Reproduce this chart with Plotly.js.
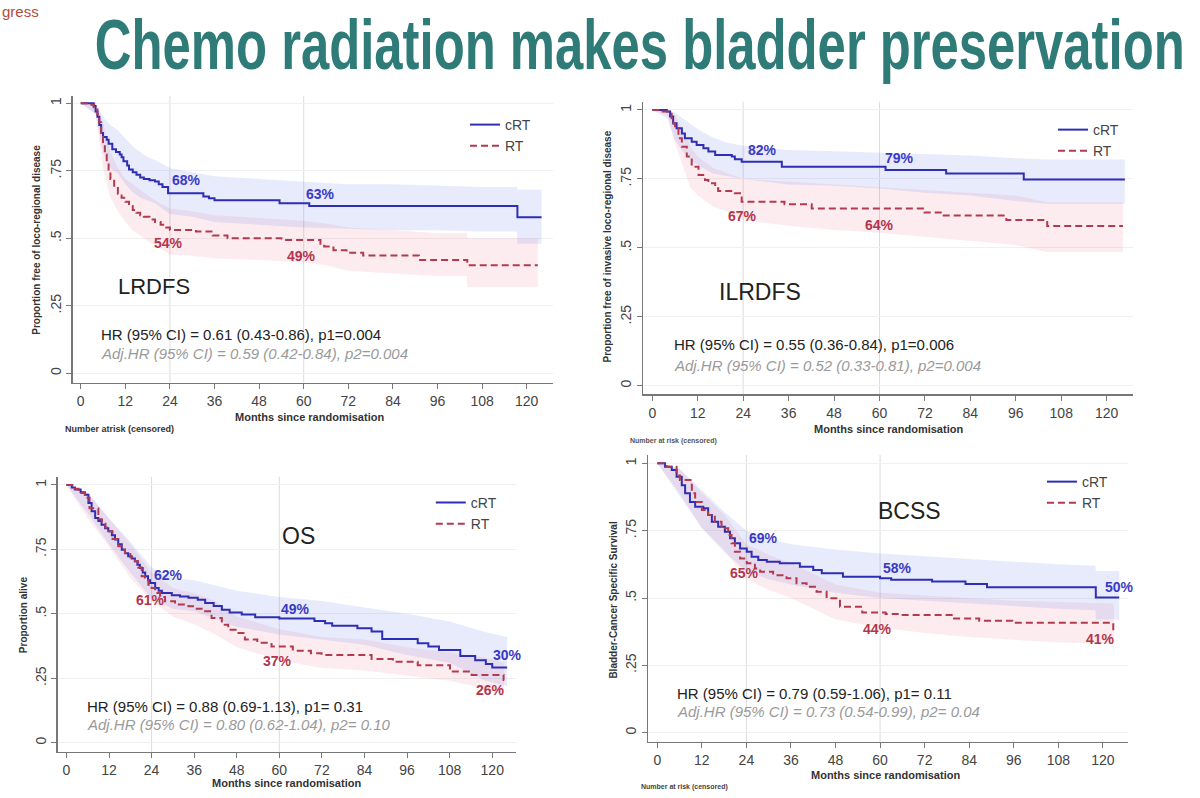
<!DOCTYPE html>
<html><head><meta charset="utf-8">
<script src="https://cdn.plot.ly/plotly-3.0.1.min.js"></script>
<style>html,body{margin:0;padding:0;background:#fff}#chart{width:1200px;height:798px}</style>
</head><body><div id="chart"></div>
<script>
// ---------- DATA (Kaplan-Meier estimates, months / proportion) ----------
const seriesNames = ["cRT", "RT"];
const monthTicks = [0, 12, 24, 36, 48, 60, 72, 84, 96, 108, 120];
const propTicks = [0, 0.25, 0.5, 0.75, 1];
const propTickText = ["0", ".25", ".5", ".75", "1"];
const refMonths = [24, 60];

// LRDFS
const lrdfsCrtT = [0, 3.5, 4, 4.5, 5, 5.5, 6, 7, 7.5, 8.5, 9.5, 10.5, 11, 11.5, 12.5, 13, 14, 15, 16, 17, 18.5, 20, 21, 22, 23.5, 33, 34.5, 36, 53.5, 61.5, 117.5, 124];
const lrdfsCrtS = [1, 0.99, 0.97, 0.95, 0.92, 0.89, 0.875, 0.865, 0.85, 0.83, 0.82, 0.81, 0.80, 0.785, 0.77, 0.755, 0.745, 0.735, 0.725, 0.72, 0.715, 0.71, 0.70, 0.69, 0.667, 0.655, 0.648, 0.641, 0.630, 0.620, 0.578, 0.578];
const lrdfsRtT = [0, 2.5, 3.5, 4.5, 5, 5.5, 6, 6.5, 7, 7.5, 8, 9, 10, 11, 12, 13, 14, 15, 16, 17, 18.5, 20, 21.5, 23, 24, 31, 35.5, 39.5, 54, 64.5, 65.5, 68, 71.5, 76, 91, 104, 123];
const lrdfsRtS = [1, 0.995, 0.985, 0.96, 0.93, 0.89, 0.85, 0.81, 0.78, 0.75, 0.72, 0.69, 0.665, 0.65, 0.635, 0.62, 0.605, 0.595, 0.585, 0.58, 0.57, 0.56, 0.55, 0.54, 0.531, 0.525, 0.51, 0.50, 0.494, 0.48, 0.47, 0.456, 0.446, 0.436, 0.42, 0.40, 0.40];
const lrdfsCrtCiT = [0, 4, 6, 8, 10, 12, 14, 16, 18, 20, 24, 30, 36, 48, 60, 72, 84, 96, 108, 117.4, 117.5, 124];
const lrdfsCrtCiUp = [1, 1, 0.95, 0.92, 0.90, 0.87, 0.84, 0.82, 0.80, 0.79, 0.76, 0.745, 0.73, 0.72, 0.71, 0.70, 0.70, 0.695, 0.69, 0.69, 0.68, 0.68];
const lrdfsCrtCiLo = [1, 0.96, 0.82, 0.76, 0.74, 0.70, 0.67, 0.65, 0.64, 0.63, 0.59, 0.58, 0.56, 0.55, 0.54, 0.535, 0.53, 0.53, 0.525, 0.525, 0.48, 0.48];
const lrdfsRtCiT = [0, 4, 6, 8, 10, 12, 14, 16, 18, 20, 24, 30, 36, 48, 60, 66, 72, 84, 96, 103.9, 104, 123];
const lrdfsRtCiUp = [1, 1, 0.93, 0.82, 0.76, 0.72, 0.70, 0.68, 0.66, 0.64, 0.61, 0.60, 0.585, 0.575, 0.565, 0.555, 0.54, 0.53, 0.52, 0.52, 0.50, 0.50];
const lrdfsRtCiLo = [1, 0.96, 0.76, 0.65, 0.60, 0.56, 0.53, 0.51, 0.49, 0.475, 0.44, 0.435, 0.425, 0.42, 0.41, 0.40, 0.38, 0.37, 0.36, 0.36, 0.32, 0.32];

// ILRDFS
const ilrdfsCrtT = [0, 3.8, 4.7, 5.5, 6.4, 7.8, 8.6, 10.4, 11.7, 13.5, 14.8, 16.6, 21, 21.8, 23.6, 34.2, 61.6, 77.6, 98.1, 124.8];
const ilrdfsCrtS = [1, 0.994, 0.976, 0.952, 0.934, 0.915, 0.897, 0.885, 0.873, 0.861, 0.849, 0.837, 0.831, 0.821, 0.812, 0.794, 0.782, 0.770, 0.748, 0.748];
const ilrdfsRtT = [0, 2, 5.1, 5.6, 6, 6.9, 7.8, 9.1, 10.4, 12.2, 13.9, 14.8, 16.6, 17.4, 21.8, 23.6, 34.9, 42.1, 71.9, 76.5, 93.5, 104.3, 124.3];
const ilrdfsRtS = [1, 0.994, 0.97, 0.95, 0.934, 0.897, 0.867, 0.831, 0.794, 0.764, 0.746, 0.734, 0.716, 0.706, 0.698, 0.667, 0.658, 0.643, 0.628, 0.617, 0.601, 0.579, 0.579];
const ilrdfsCrtCiT = [0, 4, 6, 8, 10, 12, 16, 20, 24, 36, 48, 60, 72, 84, 96, 104, 124.8];
const ilrdfsCrtCiUp = [1, 1, 0.99, 0.97, 0.95, 0.93, 0.90, 0.88, 0.87, 0.855, 0.85, 0.845, 0.84, 0.835, 0.825, 0.82, 0.82];
const ilrdfsCrtCiLo = [1, 0.97, 0.89, 0.85, 0.82, 0.80, 0.77, 0.76, 0.75, 0.73, 0.725, 0.715, 0.70, 0.69, 0.67, 0.66, 0.66];
const ilrdfsRtCiT = [0, 4, 6, 8, 10, 12, 16, 20, 24, 36, 48, 60, 72, 84, 96, 104, 124.3];
const ilrdfsRtCiUp = [1, 1, 0.98, 0.93, 0.87, 0.83, 0.79, 0.77, 0.75, 0.74, 0.73, 0.72, 0.71, 0.70, 0.69, 0.665, 0.665];
const ilrdfsRtCiLo = [1, 0.98, 0.88, 0.80, 0.72, 0.69, 0.65, 0.63, 0.60, 0.58, 0.565, 0.555, 0.54, 0.525, 0.51, 0.485, 0.485];

// OS
const osCrtT = [0, 1.5, 2.4, 4, 5.2, 6.2, 7.1, 8.1, 9, 9.9, 10.9, 11.8, 12.8, 13.7, 14.6, 15.6, 16.5, 17.4, 18.4, 19.3, 20, 20.7, 21.5, 22.2, 23, 23.6, 25, 26, 26.9, 29.7, 32, 34.4, 37, 39.1, 41.5, 43.8, 46, 49.4, 53.2, 60, 69.9, 72.9, 74.9, 82, 86, 89, 99, 102, 105, 111, 115.2, 118.2, 120, 124.2];
const osCrtS = [1, 0.99, 0.982, 0.972, 0.962, 0.930, 0.898, 0.872, 0.86, 0.846, 0.832, 0.820, 0.805, 0.788, 0.77, 0.749, 0.735, 0.723, 0.715, 0.704, 0.69, 0.678, 0.66, 0.646, 0.63, 0.620, 0.600, 0.59, 0.581, 0.572, 0.567, 0.562, 0.555, 0.542, 0.53, 0.516, 0.505, 0.497, 0.487, 0.482, 0.472, 0.463, 0.454, 0.444, 0.431, 0.402, 0.386, 0.373, 0.36, 0.336, 0.32, 0.305, 0.292, 0.292];
const osRtT = [0, 2, 3.4, 5.2, 6.5, 9, 10, 11, 12, 13, 14.6, 15.5, 16.5, 18, 19.3, 20.2, 21.2, 22.1, 23.1, 24, 25, 26.4, 27.8, 30.6, 34.4, 36.2, 38.1, 40.9, 43.8, 45.6, 48.5, 50.3, 53.8, 57.8, 63.8, 68.9, 71.9, 86, 92, 99, 108.1, 114.2, 123.2, 123.4];
const osRtS = [1, 0.985, 0.969, 0.95, 0.91, 0.867, 0.85, 0.835, 0.82, 0.79, 0.762, 0.75, 0.736, 0.72, 0.704, 0.68, 0.646, 0.63, 0.613, 0.60, 0.581, 0.565, 0.549, 0.536, 0.529, 0.52, 0.51, 0.484, 0.458, 0.438, 0.426, 0.40, 0.388, 0.373, 0.357, 0.347, 0.34, 0.325, 0.314, 0.301, 0.276, 0.263, 0.243, 0.243];
const osCrtCiT = [0, 6, 12, 18, 24, 30, 36, 42, 48, 60, 72, 84, 96, 108, 118, 124.2];
const osCrtCiUp = [1, 0.97, 0.87, 0.78, 0.68, 0.64, 0.63, 0.61, 0.59, 0.565, 0.55, 0.525, 0.50, 0.47, 0.43, 0.41];
const osCrtCiLo = [1, 0.89, 0.77, 0.66, 0.56, 0.52, 0.51, 0.48, 0.45, 0.42, 0.40, 0.38, 0.34, 0.31, 0.24, 0.22];
const osRtCiT = [0, 6, 12, 18, 24, 30, 36, 42, 48, 60, 72, 84, 96, 108, 118, 123.4];
const osRtCiUp = [1, 0.97, 0.87, 0.77, 0.66, 0.60, 0.58, 0.55, 0.49, 0.44, 0.41, 0.40, 0.37, 0.35, 0.33, 0.31];
const osRtCiLo = [1, 0.87, 0.76, 0.64, 0.55, 0.49, 0.46, 0.42, 0.37, 0.32, 0.29, 0.28, 0.26, 0.24, 0.21, 0.19];

// BCSS
const bcssCrtT = [0, 2.1, 3.9, 5.2, 6.6, 7.5, 8.8, 10.2, 12.4, 13.7, 14.7, 16.4, 18.2, 19.6, 20.9, 22.3, 24.1, 25.4, 27.2, 29.5, 33, 38.4, 42, 44.3, 50, 60, 63, 74, 83, 88.8, 118.1, 124.4];
const bcssCrtS = [1, 0.987, 0.975, 0.95, 0.919, 0.889, 0.857, 0.839, 0.833, 0.808, 0.783, 0.765, 0.746, 0.722, 0.703, 0.684, 0.672, 0.653, 0.641, 0.635, 0.629, 0.616, 0.604, 0.592, 0.579, 0.573, 0.568, 0.561, 0.552, 0.54, 0.502, 0.502];
const bcssRtT = [0, 2.5, 5.2, 6.1, 9.3, 10.2, 12, 13.7, 15.5, 17.3, 19.1, 20, 20.9, 22.3, 24.1, 26.3, 27.7, 31.2, 34.8, 37.5, 40.2, 42.9, 45.6, 49.2, 55.2, 61.5, 65.7, 79.9, 86.7, 95.6, 122.8];
const bcssRtS = [1, 0.987, 0.955, 0.938, 0.889, 0.857, 0.827, 0.808, 0.783, 0.759, 0.734, 0.703, 0.672, 0.647, 0.629, 0.610, 0.598, 0.585, 0.573, 0.555, 0.542, 0.523, 0.499, 0.468, 0.446, 0.441, 0.437, 0.424, 0.416, 0.408, 0.375];
const bcssCrtCiT = [0, 6, 12, 18, 24, 30, 36, 48, 60, 72, 84, 96, 108, 118, 118.1, 124.4];
const bcssCrtCiUp = [1, 0.98, 0.9, 0.82, 0.75, 0.72, 0.70, 0.68, 0.665, 0.655, 0.645, 0.635, 0.625, 0.62, 0.60, 0.60];
const bcssCrtCiLo = [1, 0.88, 0.76, 0.67, 0.60, 0.57, 0.55, 0.52, 0.50, 0.49, 0.48, 0.47, 0.46, 0.455, 0.42, 0.42];
const bcssRtCiT = [0, 6, 12, 18, 24, 30, 36, 48, 60, 72, 84, 96, 108, 122.7, 122.8, 123];
const bcssRtCiUp = [1, 0.98, 0.89, 0.81, 0.70, 0.66, 0.63, 0.55, 0.52, 0.51, 0.50, 0.49, 0.485, 0.48, 0.47, 0.47];
const bcssRtCiLo = [1, 0.89, 0.76, 0.68, 0.57, 0.53, 0.50, 0.42, 0.39, 0.37, 0.355, 0.345, 0.335, 0.33, 0.28, 0.28];

// Panel labels and statistics
const slideTitle = "Chemo radiation makes bladder preservation";
const panelNames = ["LRDFS", "ILRDFS", "OS", "BCSS"];
const yTitles = ["Proportion free of loco-regional disease", "Proportion free of invasive loco-regional disease", "Proportion alive", "Bladder-Cancer Specific Survival"];
const xTitle = "Months since randomisation";
const hrTexts = ["HR (95% CI) = 0.61 (0.43-0.86), p1=0.004", "HR (95% CI) = 0.55 (0.36-0.84), p1=0.006", "HR (95% CI) = 0.88 (0.69-1.13), p1= 0.31", "HR (95% CI) = 0.79 (0.59-1.06), p1= 0.11"];
const adjTexts = ["Adj.HR (95% CI) = 0.59 (0.42-0.84), p2=0.004", "Adj.HR (95% CI) = 0.52 (0.33-0.81), p2=0.004", "Adj.HR (95% CI) = 0.80 (0.62-1.04), p2= 0.10", "Adj.HR (95% CI) = 0.73 (0.54-0.99), p2= 0.04"];
const crtPctLabels = [["68%", "63%"], ["82%", "79%"], ["62%", "49%", "30%"], ["69%", "58%", "50%"]];
const rtPctLabels = [["54%", "49%"], ["67%", "64%"], ["61%", "37%", "26%"], ["65%", "44%", "41%"]];

// ---------- LAYOUT / STYLE ----------
const BLUE = "#2e2eb4", RED = "#b23a4e";
const BLUE_TXT = "#3a3ac4", RED_TXT = "#b3354c";
const BLUE_FILL = "rgba(100,120,230,0.15)", RED_FILL = "rgba(230,100,130,0.12)";
const FONT = "Liberation Sans, Arial, sans-serif";

const panels = [
  {ax: "", xd: [0.0606, 0.4606], yd: [0.5204, 0.8797], xr: [-2.15, 127], yr: [-0.035, 1.027],
   crt: [lrdfsCrtT, lrdfsCrtS], rt: [lrdfsRtT, lrdfsRtS],
   crtCi: [lrdfsCrtCiT, lrdfsCrtCiLo, lrdfsCrtCiUp], rtCi: [lrdfsRtCiT, lrdfsRtCiLo, lrdfsRtCiUp],
   leg: [0.3875, 0.8634], name: [19.8, 0.321], hr: [5, 0.142, 0.074],
   crtPos: [[28.5, 0.714], [64.4, 0.664]], rtPos: [[23.7, 0.484], [59.4, 0.435]],
   yt: [0.02975, 0.6992], xt: [0.2575, 0.4779]},
  {ax: "2", xd: [0.5361, 0.9440], yd: [0.5059, 0.8726], xr: [-2.38, 126.9], yr: [-0.031, 1.030],
   crt: [ilrdfsCrtT, ilrdfsCrtS], rt: [ilrdfsRtT, ilrdfsRtS],
   crtCi: [ilrdfsCrtCiT, ilrdfsCrtCiLo, ilrdfsCrtCiUp], rtCi: [ilrdfsRtCiT, ilrdfsRtCiLo, ilrdfsRtCiUp],
   leg: [0.8775, 0.8571], name: [28.5, 0.341], hr: [5.1, 0.148, 0.075],
   crtPos: [[29.1, 0.855], [65.2, 0.825]], rtPos: [[23.9, 0.615], [60.1, 0.583]],
   yt: [0.5063, 0.6905], xt: [0.7407, 0.4620]},
  {ax: "3", xd: [0.04825, 0.43], yd: [0.0580, 0.4026], xr: [-2.4, 126.7], yr: [-0.035, 1.032],
   crt: [osCrtT, osCrtS], rt: [osRtT, osRtS],
   crtCi: [osCrtCiT, osCrtCiLo, osCrtCiUp], rtCi: [osRtCiT, osRtCiLo, osRtCiUp],
   leg: [0.3590, 0.3897], name: [65.3, 0.802], hr: [5.2, 0.142, 0.072],
   crtPos: [[28.8, 0.651], [64.6, 0.517], [124.4, 0.34]], rtPos: [[23.8, 0.554], [59.6, 0.317], [119.4, 0.204]],
   yt: [0.0193, 0.2293], xt: [0.239, 0.0184]},
  {ax: "4", xd: [0.5403, 0.9401], yd: [0.0702, 0.4298], xr: [-2.4, 126.8], yr: [-0.0345, 1.031],
   crt: [bcssCrtT, bcssCrtS], rt: [bcssRtT, bcssRtS],
   crtCi: [bcssCrtCiT, bcssCrtCiLo, bcssCrtCiUp], rtCi: [bcssRtCiT, bcssRtCiLo, bcssRtCiUp],
   leg: [0.8683, 0.4160], name: [68, 0.823], hr: [4.7, 0.146, 0.078],
   crtPos: [[28.5, 0.722], [64.7, 0.61], [124.6, 0.54]], rtPos: [[23.6, 0.594], [59.4, 0.386], [119.4, 0.349]],
   yt: [0.5105, 0.2481], xt: [0.7381, 0.0288]}
];

const data = [];
const layout = {
  width: 1200, height: 798, margin: {l: 0, r: 0, t: 0, b: 0},
  paper_bgcolor: "#ffffff", plot_bgcolor: "#ffffff",
  showlegend: true, annotations: [], shapes: [],
  font: {family: FONT, color: "#333"}
};

panels.forEach((p, i) => {
  const xa = "x" + p.ax, ya = "y" + p.ax;
  const legName = i === 0 ? "legend" : "legend" + (i + 1);
  const band = (ci, fill) => {
    data.push({x: ci[0], y: ci[1], xaxis: xa, yaxis: ya, mode: "lines", line: {width: 0}, showlegend: false, hoverinfo: "skip"});
    data.push({x: ci[0], y: ci[2], xaxis: xa, yaxis: ya, mode: "lines", line: {width: 0}, fill: "tonexty", fillcolor: fill, showlegend: false, hoverinfo: "skip"});
  };
  band(p.rtCi, RED_FILL);
  band(p.crtCi, BLUE_FILL);
  data.push({x: p.crt[0], y: p.crt[1], xaxis: xa, yaxis: ya, mode: "lines", name: seriesNames[0], legend: legName,
    line: {color: BLUE, width: 2, shape: "hv"}});
  data.push({x: p.rt[0], y: p.rt[1], xaxis: xa, yaxis: ya, mode: "lines", name: seriesNames[1], legend: legName,
    line: {color: RED, width: 2, shape: "hv", dash: "7px,4px"}});

  const axKey = "xaxis" + p.ax, ayKey = "yaxis" + p.ax;
  layout[axKey] = {domain: p.xd, range: p.xr, anchor: ya, tickvals: monthTicks, ticks: "outside", ticklen: 5,
    tickcolor: "#777", showline: true, linecolor: "#777", linewidth: 1.5, showgrid: false, zeroline: false,
    tickfont: {size: 14, color: "#444", family: FONT}, fixedrange: true};
  layout[ayKey] = {domain: p.yd, range: p.yr, anchor: xa, tickvals: propTicks, ticktext: propTickText, tickangle: -90,
    ticks: "outside", ticklen: 5, tickcolor: "#777", showline: true, linecolor: "#777", linewidth: 1.5,
    showgrid: true, gridcolor: "#f0f0f0", gridwidth: 1, zeroline: false,
    tickfont: {size: 14, color: "#444", family: FONT}, fixedrange: true};
  layout[legName] = {x: p.leg[0], y: p.leg[1], xanchor: "left", yanchor: "top", bgcolor: "rgba(0,0,0,0)",
    borderwidth: 0, traceorder: "normal", font: {size: 14, color: "#444", family: FONT}, itemwidth: 30, tracegroupgap: 0};

  refMonths.forEach(m => layout.shapes.push({type: "line", xref: xa, yref: ya + " domain", x0: m, x1: m, y0: 0, y1: 1,
    line: {color: "#dcdcdc", width: 1}, layer: "below"}));

  const A = layout.annotations;
  const dA = (x, y, text, font, xanchor) => A.push({xref: xa, yref: ya, x: x, y: y, text: text, showarrow: false,
    xanchor: xanchor || "center", yanchor: "middle", font: font});
  dA(p.name[0], p.name[1], panelNames[i], {size: i === 0 ? 22 : 23, color: "#222", family: FONT});
  dA(p.hr[0], p.hr[1], hrTexts[i], {size: 15, color: "#222", family: FONT}, "left");
  dA(p.hr[0], p.hr[2], "<i>" + adjTexts[i] + "</i>", {size: 15, color: "#9a9a9a", family: FONT}, "left");
  crtPctLabels[i].forEach((t, k) => dA(p.crtPos[k][0], p.crtPos[k][1], "<b>" + t + "</b>", {size: 14, color: BLUE_TXT, family: FONT}));
  rtPctLabels[i].forEach((t, k) => dA(p.rtPos[k][0], p.rtPos[k][1], "<b>" + t + "</b>", {size: 14, color: RED_TXT, family: FONT}));
  A.push({xref: "paper", yref: "paper", x: p.yt[0], y: p.yt[1], xanchor: "center", yanchor: "middle",
    text: "<b>" + yTitles[i] + "</b>", textangle: -90, showarrow: false, font: {size: 10, color: "#333", family: FONT}});
  A.push({xref: "paper", yref: "paper", x: p.xt[0], y: p.xt[1], xanchor: "center", yanchor: "middle",
    text: "<b>" + xTitle + "</b>", showarrow: false, font: {size: 11, color: "#333", family: FONT}});
});

// slide title and fragments
const titleIndex = layout.annotations.length;
layout.annotations.push({xref: "paper", yref: "paper", x: 0.5333, y: 0.9436, xanchor: "center", yanchor: "middle",
  text: "<b>" + slideTitle + "</b>", showarrow: false,
  font: {size: 70, color: "#2e7b78", family: FONT}});
layout.annotations.push({xref: "paper", yref: "paper", x: 0, y: 0.985, xanchor: "left", yanchor: "middle",
  text: "gress", showarrow: false, font: {size: 15, color: "#b04b3c", family: FONT}});
layout.annotations.push({xref: "paper", yref: "paper", x: 0.0525, y: 1 - 429 / 798, xanchor: "left", yanchor: "middle",
  text: "<b>Number atrisk (censored)</b>", showarrow: false, font: {size: 9, color: "#333", family: FONT}});
layout.annotations.push({xref: "paper", yref: "paper", x: 0.5233, y: 1 - 441 / 798, xanchor: "left", yanchor: "middle",
  text: "<b>Number at risk (censored)</b>", showarrow: false, font: {size: 7, color: "#555", family: FONT}});
layout.annotations.push({xref: "paper", yref: "paper", x: 0.5325, y: 1 - 787 / 798, xanchor: "left", yanchor: "middle",
  text: "<b>Number at risk (censored)</b>", showarrow: false, font: {size: 7, color: "#444", family: FONT}});

Plotly.newPlot("chart", data, layout, {displayModeBar: false, staticPlot: true}).then(gd => {
  // condense the slide title horizontally (the original uses a narrow typeface)
  const g = gd.querySelector('.annotation[data-index="' + titleIndex + '"]');
  if (!g) return;
  const txt = g.querySelector("text");
  const r = txt.getBoundingClientRect();
  const targetWidth = 1090;
  const sx = Math.min(1, targetWidth / r.width);
  const cx = r.left + r.width / 2;
  g.setAttribute("transform", "translate(" + cx + ",0) scale(" + sx + ",1) translate(" + (-cx) + ",0)");
});
</script>
</body></html>
